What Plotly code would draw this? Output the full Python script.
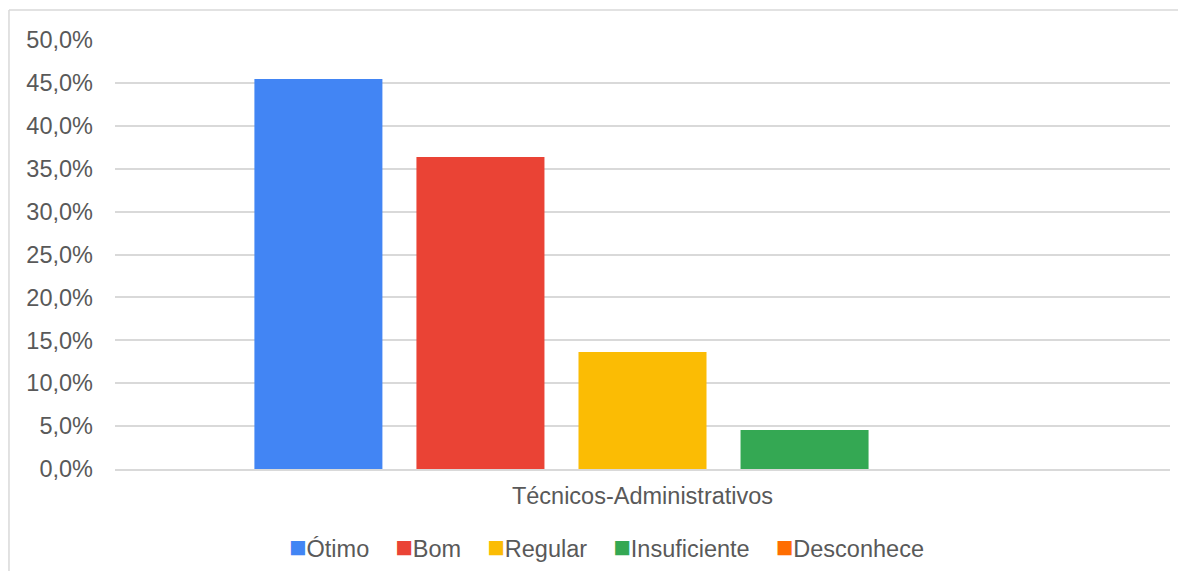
import plotly.graph_objects as go

categories = ["Técnicos-Administrativos"]
series_names = ["Ótimo", "Bom", "Regular", "Insuficiente", "Desconhece"]
series_values = [45.45, 36.36, 13.64, 4.55, 0.0]
series_colors = ["#4285F4", "#EA4335", "#FBBC04", "#34A853", "#FF6D01"]
y_tickvals = [0, 5, 10, 15, 20, 25, 30, 35, 40, 45, 50]
y_ticktext = ["0,0%", "5,0%", "10,0%", "15,0%", "20,0%", "25,0%", "30,0%", "35,0%", "40,0%", "45,0%", "50,0%"]

TEXT = "#595959"
GRID = "#d9d9d9"
FS = 23.5

fig = go.Figure()
for name, val, col in zip(series_names, series_values, series_colors):
    fig.add_trace(go.Bar(x=categories, y=[val], name=name, marker=dict(color=col, line=dict(width=0))))

# custom legend (compact symbol/text spacing as in the reference)
sep = "\u00a0" * 4
legend_text = sep.join(
    f"<span style='color:{c};font-size:29px'>■</span>{n}" for n, c in zip(series_names, series_colors)
)

fig.update_layout(
    width=1170, height=563,
    margin=dict(l=107, r=8, t=32, b=102),
    paper_bgcolor="white", plot_bgcolor="white",
    barmode="group", bargap=0.232, bargroupgap=0.21,
    font=dict(family="Arial, Liberation Sans, sans-serif", color=TEXT),
    showlegend=False,
    annotations=[dict(text=legend_text, xref="paper", yref="paper", x=0.4655, y=-0.182,
                      xanchor="center", yanchor="middle", showarrow=False,
                      font=dict(size=FS, color=TEXT))],
    shapes=[
        dict(type="line", xref="paper", yref="paper", x0=-0.1005, x1=-0.1005, y0=-0.4, y1=1.070,
             line=dict(color=GRID, width=1.5), layer="below"),
        dict(type="line", xref="paper", yref="paper", x0=-0.1005, x1=1.2, y0=1.070, y1=1.070,
             line=dict(color=GRID, width=1.5), layer="below"),
    ],
)
fig.update_yaxes(range=[0, 50], tickvals=y_tickvals, ticktext=y_ticktext,
                 showgrid=True, gridcolor=GRID, gridwidth=1.5,
                 zeroline=False, showline=False, ticks="", tickfont=dict(size=FS, color=TEXT),
                 ticklabelstandoff=21)
fig.update_xaxes(showline=True, linecolor=GRID, linewidth=1.5, ticks="",
                 tickfont=dict(size=FS, color=TEXT), ticklabelstandoff=5)

fig.write_html("out.html")
